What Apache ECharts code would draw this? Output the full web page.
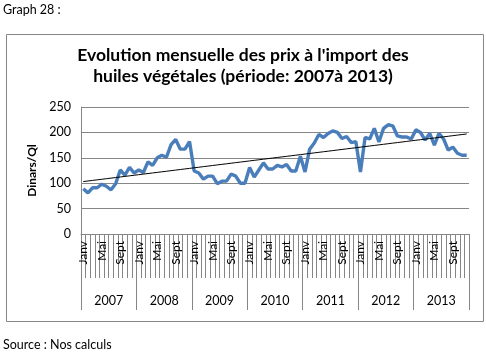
<!DOCTYPE html>
<html>
<head>
<meta charset="utf-8">
<script src="https://cdn.jsdelivr.net/npm/echarts@6/dist/echarts.min.js"></script>
<style>
html,body{margin:0;padding:0;background:#fff;}
#c{width:486px;height:355px;}
</style>
</head>
<body>
<div id="c"></div>
<script>
var years = ['2007','2008','2009','2010','2011','2012','2013'];
var months = ['Janv','Févr','Mars','Avr','Mai','Juin','Juil','Août','Sept','Oct','Nov','Déc'];
var p2007 = [89, 81, 91, 91, 98, 94, 87, 99, 126, 116, 131, 120];
var p2008 = [126, 121, 142, 135, 150, 155, 151, 176, 186, 167, 167, 182];
var p2009 = [124, 120, 108, 114, 114, 99, 104, 104, 118, 114, 100, 100];
var p2010 = [131, 112, 126, 140, 128, 128, 135, 132, 137, 124, 124, 153];
var p2011 = [122, 167, 179, 196, 190, 198, 203, 200, 188, 192, 180, 182];
var p2012 = [122, 190, 187, 208, 181, 208, 215, 213, 193, 191, 191, 187];
var p2013 = [205, 200, 185, 198, 175, 198, 187, 165, 171, 159, 155, 155];
var yTicks = [0, 50, 100, 150, 200, 250];

var prices = [].concat(p2007, p2008, p2009, p2010, p2011, p2012, p2013);
var cats = [];
years.forEach(function (y) { months.forEach(function (m) { cats.push(m + ' ' + y); }); });

// linear trendline (least squares) from the series
var n = prices.length, sx = 0, sy = 0, sxy = 0, sxx = 0;
for (var i = 0; i < n; i++) { sx += i; sy += prices[i]; sxy += i * prices[i]; sxx += i * i; }
var slope = (n * sxy - sx * sy) / (n * sxx - sx * sx);
var icpt = (sy - slope * sx) / n;
var trend = prices.map(function (_, i) { return +(icpt + slope * i).toFixed(2); });

var FONT = 'Lato, "Liberation Sans", sans-serif';
var GRAY = '#868686';
var chart = echarts.init(document.getElementById('c'), null, {renderer: 'canvas'});
chart.setOption({
  animation: false,
  backgroundColor: '#fff',
  title: {
    text: "Evolution mensuelle des prix à l'import des\nhuiles végétales (période: 2007à 2013)",
    left: 'center', top: 40,
    textStyle: {fontFamily: FONT, fontWeight: 'bold', fontSize: 17.5, lineHeight: 21, color: '#000'}
  },
  graphic: [
    {type: 'rect', shape: {x: 6.5, y: 34.5, width: 477, height: 287}, style: {fill: 'none', stroke: GRAY, lineWidth: 1}, z: -1},
    {type: 'text', left: 3, top: 3, style: {text: 'Graph 28 :', font: '12.5px ' + FONT, fill: '#000'}},
    {type: 'text', left: 3, top: 338, style: {text: 'Source : Nos calculs', font: '12.5px ' + FONT, fill: '#000'}}
  ],
  grid: {left: 81, right: 17, top: 107, bottom: 121, containLabel: false},
  xAxis: [
    {
      type: 'category', data: cats, boundaryGap: true,
      axisLine: {show: true, lineStyle: {color: GRAY, width: 1}},
      axisTick: {show: true, interval: 0, length: 44, lineStyle: {color: GRAY}},
      axisLabel: {
        interval: 3, rotate: 90, margin: 7,
        fontFamily: FONT, fontSize: 12, color: '#000',
        formatter: function (v) { return v.split(' ')[0]; }
      },
      splitLine: {show: false}
    },
    {
      type: 'category', data: years, boundaryGap: true, position: 'bottom',
      axisLine: {show: false},
      axisTick: {show: true, interval: 0, length: 76, lineStyle: {color: GRAY}},
      axisLabel: {interval: 0, margin: 60, fontFamily: FONT, fontSize: 12.5, color: '#000'},
      splitLine: {show: false}
    }
  ],
  yAxis: {
    type: 'value', min: yTicks[0], max: yTicks[yTicks.length - 1], interval: 50,
    name: 'Dinars/Ql', nameLocation: 'middle', nameGap: 43, nameRotate: 90,
    nameTextStyle: {fontFamily: FONT, fontWeight: 'bold', fontSize: 12, color: '#000'},
    axisLine: {show: true, lineStyle: {color: GRAY}},
    axisTick: {show: false},
    axisLabel: {fontFamily: FONT, fontSize: 12.5, color: '#000', margin: 10},
    splitLine: {show: true, lineStyle: {color: GRAY, width: 1}}
  },
  series: [
    {
      type: 'line', data: prices, xAxisIndex: 0, showSymbol: false, symbol: 'none',
      lineStyle: {color: '#4A7EBB', width: 3.4}, z: 3
    },
    {
      type: 'line', data: trend, xAxisIndex: 0, showSymbol: false, symbol: 'none',
      lineStyle: {color: '#000', width: 1}, z: 4
    }
  ]
});
</script>
</body>
</html>
